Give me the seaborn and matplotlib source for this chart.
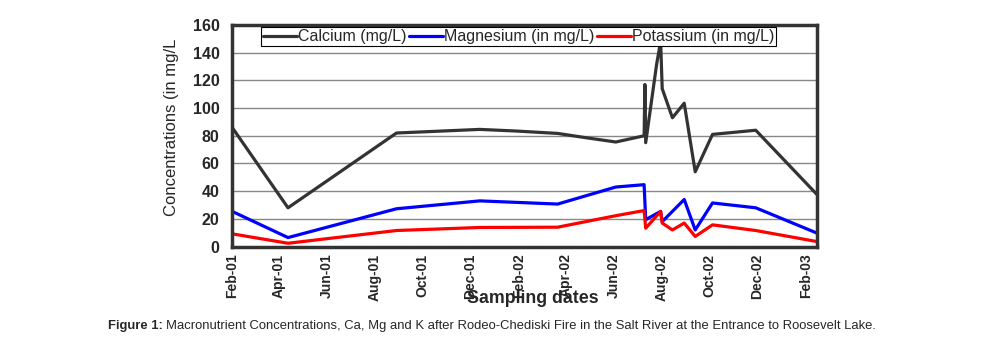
import pandas as pd
import numpy as np
import matplotlib
matplotlib.use('Agg')
import matplotlib.pyplot as plt
import matplotlib.dates as mdates
import seaborn as sns

# Calcium (mg/L)
ca_dates = ['2001-02-01', '2001-04-13', '2001-08-29', '2001-12-13', '2002-01-29',
            '2002-03-22', '2002-04-27', '2002-06-04', '2002-07-10', '2002-07-11',
            '2002-07-12', '2002-07-26', '2002-07-31', '2002-08-02', '2002-08-15',
            '2002-08-30', '2002-09-13', '2002-10-05', '2002-11-29', '2003-02-15']
ca_values = [86, 28, 82, 84.6, 83.4, 81.7, 78.6, 75.5, 80, 117,
             75, 132, 148, 114, 93, 103.5, 54, 81, 84, 37.5]

# Magnesium (in mg/L)
mg_dates = ['2001-02-01', '2001-04-13', '2001-08-29', '2001-12-13', '2002-03-22',
            '2002-06-04', '2002-07-10', '2002-07-12', '2002-07-31', '2002-08-02',
            '2002-08-30', '2002-09-13', '2002-10-05', '2002-11-29', '2003-02-15']
mg_values = [25.4, 6.5, 27.3, 33, 30.7, 43, 44.7, 19.4, 25.4, 18,
             34, 12, 31.5, 28, 9.7]

# Potassium (in mg/L)
k_dates = ['2001-02-01', '2001-04-13', '2001-08-29', '2001-12-13', '2002-03-22',
           '2002-06-04', '2002-07-10', '2002-07-12', '2002-07-31', '2002-08-02',
           '2002-08-15', '2002-08-30', '2002-09-13', '2002-10-05', '2002-11-29',
           '2003-02-15']
k_values = [9.2, 2.4, 11.6, 13.8, 14, 22.3, 26, 13.3, 25.4, 17,
            12, 17, 7.3, 15.7, 11.6, 3.6]

series_names = ['Calcium (mg/L)', 'Magnesium (in mg/L)', 'Potassium (in mg/L)']
colors = ['#333333', '#0000ff', '#ff0000']

frames = []
for name, d, v in zip(series_names, [ca_dates, mg_dates, k_dates],
                      [ca_values, mg_values, k_values]):
    frames.append(pd.DataFrame({'date': pd.to_datetime(d), 'value': v, 'series': name}))
df = pd.concat(frames, ignore_index=True)

sns.set_style('white')
plt.rcParams['font.family'] = ['Liberation Sans', 'DejaVu Sans']

fig = plt.figure(figsize=(9.88, 3.42), dpi=100)
ax = fig.add_axes([0.235, 0.279, 0.592, 0.648])

sns.lineplot(data=df, x='date', y='value', hue='series', palette=colors,
             estimator=None, sort=False, linewidth=2.3, ax=ax, legend=False)

# frame and grid
for s in ax.spines.values():
    s.set_color('#333333')
    s.set_linewidth(2.5)
ax.set_ylim(0, 160)
ax.set_yticks(np.arange(0, 161, 20))
ax.yaxis.grid(True, color='#888888', linewidth=1)
ax.set_axisbelow(True)
ax.set_xlim(pd.Timestamp('2001-02-01'), pd.Timestamp('2003-02-15'))
ax.xaxis.set_major_locator(mdates.MonthLocator(bymonth=[2, 4, 6, 8, 10, 12]))
ax.xaxis.set_major_formatter(mdates.DateFormatter('%b-%y'))
ax.tick_params(axis='x', direction='out', length=4, width=1, color='black',
               labelsize=10, rotation=90, pad=1)
ax.tick_params(axis='y', length=0, labelsize=11.5, pad=9)
for lbl in ax.get_xticklabels() + ax.get_yticklabels():
    lbl.set_fontweight('bold')

ax.set_xlabel('')
ax.set_ylabel('')
fig.text(0.174, 0.627, 'Concentrations (in mg/L', rotation=90, ha='center', va='center',
         fontsize=12)
fig.text(0.539, 0.128, 'Sampling dates', ha='center', va='center',
         fontsize=12.8, fontweight='bold')

# legend
handles = [plt.Line2D([], [], color=c, linewidth=2.3) for c in colors]
leg = ax.legend(handles, series_names, loc='upper center', bbox_to_anchor=(0.49, 0.99),
                ncol=3, frameon=True, fancybox=False, fontsize=11.5,
                handlelength=2.1, handletextpad=0.1, columnspacing=0.15,
                borderpad=0.12, borderaxespad=0.0)
leg.get_frame().set_edgecolor('black')
leg.get_frame().set_linewidth(0.8)
leg.get_frame().set_alpha(1)

# caption
cap_y = 0.048
fig.text(108 / 988, cap_y, 'Figure 1:', ha='left', va='center', fontsize=9.4,
         fontweight='bold')
fig.text(166 / 988, cap_y, 'Macronutrient Concentrations, Ca, Mg and K after Rodeo-Chediski Fire '
         'in the Salt River at the Entrance to Roosevelt Lake.', ha='left', va='center',
         fontsize=9.4)

fig.savefig('out.png', dpi=100)
